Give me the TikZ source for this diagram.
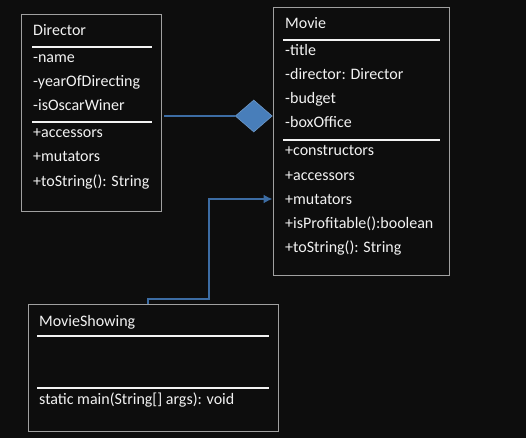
\documentclass[tikz,border=0pt]{standalone}
\usepackage{fontspec}
\setmainfont{Carlito}
\usetikzlibrary{shapes.geometric,arrows.meta}

\definecolor{bgcol}{RGB}{13,13,13}
\definecolor{boxgray}{RGB}{160,160,160}
\definecolor{txtcol}{RGB}{242,242,242}
\definecolor{linkblue}{RGB}{60,108,163}
\definecolor{diafill}{RGB}{72,126,186}

\tikzset{
  classbox/.style={draw=boxgray, line width=0.9pt, inner sep=0pt},
  sepline/.style={draw=txtcol, line width=1.6pt},
  member/.style={anchor=base west, inner sep=0pt, text=txtcol,
    font=\fontsize{16}{18}\selectfont},
  link/.style={draw=linkblue, line width=2pt},
}

\begin{document}
\begin{tikzpicture}[x=1pt,y=-1pt]

	\fill[bgcol] (0,0) rectangle (526,438);
	\useasboundingbox (0,0) rectangle (526,438);

	% Director
	\node[classbox, minimum width=140pt, minimum height=197pt] (director) at (91,112.5) {};
	\draw[sepline] (32,47) -- (152,47);
	\draw[sepline] (32,122) -- (152,122);
	\node[member] (dtitle) at (33,36) {Director};
	\node[member] (dname) at (33,63) {-name};
	\node[member] (dyear) at (33,87) {-yearOfDirecting};
	\node[member] (doscar) at (33,111) {-isOscarWiner};
	\node[member] (dacc) at (33,138) {+accessors};
	\node[member] (dmut) at (33,162) {+mutators};
	\node[member] (dstr) at (33,186) {+toString(): String};

	% Movie
	\node[classbox, minimum width=176pt, minimum height=268pt] (movie) at (361,141) {};
	\draw[sepline] (283,40) -- (440,40);
	\draw[sepline] (283,140) -- (440,140);
	\node[member] (mtitle) at (285,29) {Movie};
	\node[member] (mname) at (285,56) {-title};
	\node[member] (mdir) at (285,80) {-director: Director};
	\node[member] (mbudget) at (285,104) {-budget};
	\node[member] (mbox) at (285,128) {-boxOffice};
	\node[member] (mcons) at (285,156) {+constructors};
	\node[member] (macc) at (285,180) {+accessors};
	\node[member] (mmut) at (285,204) {+mutators};
	\node[member] (mprof) at (285,228) {+isProfitable():boolean};
	\node[member] (mstr) at (285,252) {+toString(): String};

	% MovieShowing
	\node[classbox, minimum width=250pt, minimum height=127pt] (show) at (153,367.5) {};
	\draw[sepline] (37,336) -- (269,336);
	\draw[sepline] (37,388) -- (269,388);
	\node[member] (stitle) at (39,326) {MovieShowing};
	\node[member] (smain) at (39,404) {static main(String[] args): void};

	% aggregation Director -- Movie
	\node[diamond, draw=diafill!80!white, fill=diafill, line width=0.6pt,
	      minimum width=37pt, minimum height=32pt, inner sep=0pt, anchor=east] (dia) at (movie.west |- 0,116) {};
	\coordinate (dstart) at (164,116);
	\draw[link] (dstart) -- (dia.west);

	% MovieShowing uses Movie
	\coordinate (bend) at (209,199);
	\draw[link, -{Latex[length=9pt,width=9pt]}] ([xshift=-5pt]show.north) -- ++(0,-5) -| (bend) -- (bend -| movie.west);

\end{tikzpicture}
\end{document}
